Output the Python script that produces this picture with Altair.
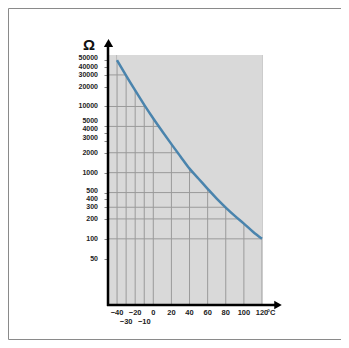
import altair as alt
import pandas as pd

# NTC resistance curve
temps = [-40, -30, -20, -10, 0, 10, 20, 30, 40, 50, 60, 70, 80, 90, 100, 110, 120]
resist = [50000, 29300, 17500, 10600, 6600, 4200, 2700, 1760, 1150, 810, 570, 405, 297, 222, 170, 128, 100]

y_labels = [50000, 40000, 30000, 20000, 10000, 5000, 4000, 3000, 2000, 1000, 500, 400, 300, 200, 100, 50]
h_grid = [30000, 10000, 5000, 2000, 1000, 500, 300, 200, 100]
v_grid = [-40, -30, -20, -10, 0, 20, 40, 60, 80, 100, 120]
x_row1 = [-40, -20, 0, 20, 40, 60, 80, 100, 120]
x_row2 = [-30, -10]

# small vertical nudges (px) so crowded labels do not collide, as in the original
label_nudge = {50000: -2, 5000: -5, 4000: -4, 3000: -3.5, 500: -2}

W, H = 154, 250
BG = "#d9d9d9"
FONT = "Liberation Sans"
TOP = 60000

xs = alt.Scale(domain=[-50, 120], nice=False, zero=False)
ys = alt.Scale(type="log", domain=[10, TOP], nice=False)

curve = pd.DataFrame({"T": temps, "R": resist})
cover_df = pd.DataFrame({"T": temps, "R": resist, "top": [TOP] * len(temps)})
one = pd.DataFrame({"a": [0]})

vgrid = alt.Chart(pd.DataFrame({"T": v_grid})).mark_rule(color="#9a9a9a", strokeWidth=1).encode(
    x=alt.X("T:Q", scale=xs, axis=None),
    y=alt.value(0), y2=alt.value(H))

hgrid = alt.Chart(pd.DataFrame({"R": h_grid})).mark_rule(color="#9a9a9a", strokeWidth=1).encode(
    y=alt.Y("R:Q", scale=ys, axis=alt.Axis(
        values=y_labels, title=None, domain=False, grid=False, ticks=True,
        tickSize=4, tickColor="#888", labels=False)),
    x=alt.value(0), x2=alt.value(W))

cover = alt.Chart(cover_df).mark_area(color=BG, fill=BG, interpolate="monotone", opacity=1).encode(
    x=alt.X("T:Q", scale=xs, axis=None),
    y=alt.Y("R:Q", scale=ys, stack=None),
    y2="top:Q")

line = alt.Chart(curve).mark_line(color="#4a84ad", strokeWidth=2.5, interpolate="monotone").encode(
    x=alt.X("T:Q", scale=xs, axis=None),
    y=alt.Y("R:Q", scale=ys))

# y tick labels as text, grouped by nudge
ylabel_layers = []
groups = {}
for v in y_labels:
    groups.setdefault(label_nudge.get(v, 0), []).append(v)
for dy, vals in groups.items():
    ylabel_layers.append(
        alt.Chart(pd.DataFrame({"R": vals})).mark_text(
            font=FONT, fontSize=7, fontWeight="bold", color="#222",
            baseline="middle", align="right", dy=dy).encode(
            x=alt.value(-10), y=alt.Y("R:Q", scale=ys), text=alt.Text("R:Q", format="d")))

yaxis = alt.Chart(one).mark_rule(color="black", strokeWidth=2.5).encode(
    x=alt.value(0), y=alt.value(-8), y2=alt.value(H + 1))
xaxis = alt.Chart(one).mark_rule(color="black", strokeWidth=2.5).encode(
    y=alt.value(H), x=alt.value(-1), x2=alt.value(168))

yarrow = alt.Chart(one).mark_point(shape="triangle-up", filled=True, size=85, color="black", opacity=1).encode(
    x=alt.value(0.5), y=alt.value(-12))
xarrow = alt.Chart(one).mark_point(shape="triangle-right", filled=True, size=75, color="black", opacity=1).encode(
    x=alt.value(170), y=alt.value(H))

row1 = alt.Chart(pd.DataFrame({"T": x_row1})).mark_text(
    font=FONT, fontSize=7.5, fontWeight="bold", color="#222", baseline="middle").encode(
    x=alt.X("T:Q", scale=xs, axis=None), y=alt.value(H + 8), text="T:Q")
row2 = alt.Chart(pd.DataFrame({"T": x_row2})).mark_text(
    font=FONT, fontSize=7.5, fontWeight="bold", color="#222", baseline="middle").encode(
    x=alt.X("T:Q", scale=xs, axis=None), y=alt.value(H + 17), text="T:Q")
degc = alt.Chart(pd.DataFrame({"T": [120], "t": ["°C"]})).mark_text(
    font=FONT, fontSize=7.5, fontWeight="bold", color="#222", baseline="middle", align="left", dx=5).encode(
    x=alt.X("T:Q", scale=xs, axis=None), y=alt.value(H + 8), text="t:N")

omega = alt.Chart(pd.DataFrame({"t": ["Ω"]})).mark_text(
    font=FONT, fontSize=15, fontWeight="bold", color="#111", baseline="middle", align="center").encode(
    x=alt.value(-19), y=alt.value(-10), text="t:N")

frame = alt.Chart(one).mark_rect(filled=False, stroke="#8a8a8a", strokeWidth=1).encode(
    x=alt.value(-99.5), x2=alt.value(233.5), y=alt.value(-46.5), y2=alt.value(284.5))

chart = alt.layer(
    frame, vgrid, hgrid, cover, line, *ylabel_layers, yaxis, xaxis, yarrow, xarrow,
    row1, row2, degc, omega
).properties(
    width=W, height=H,
    autosize=alt.AutoSizeParams(type="none"),
    padding={"left": 100, "top": 47, "right": 79, "bottom": 35},
    background="white",
).configure_view(fill=BG, stroke=None)

chart.save("out.html", embed_options={"renderer": "svg", "actions": False})
